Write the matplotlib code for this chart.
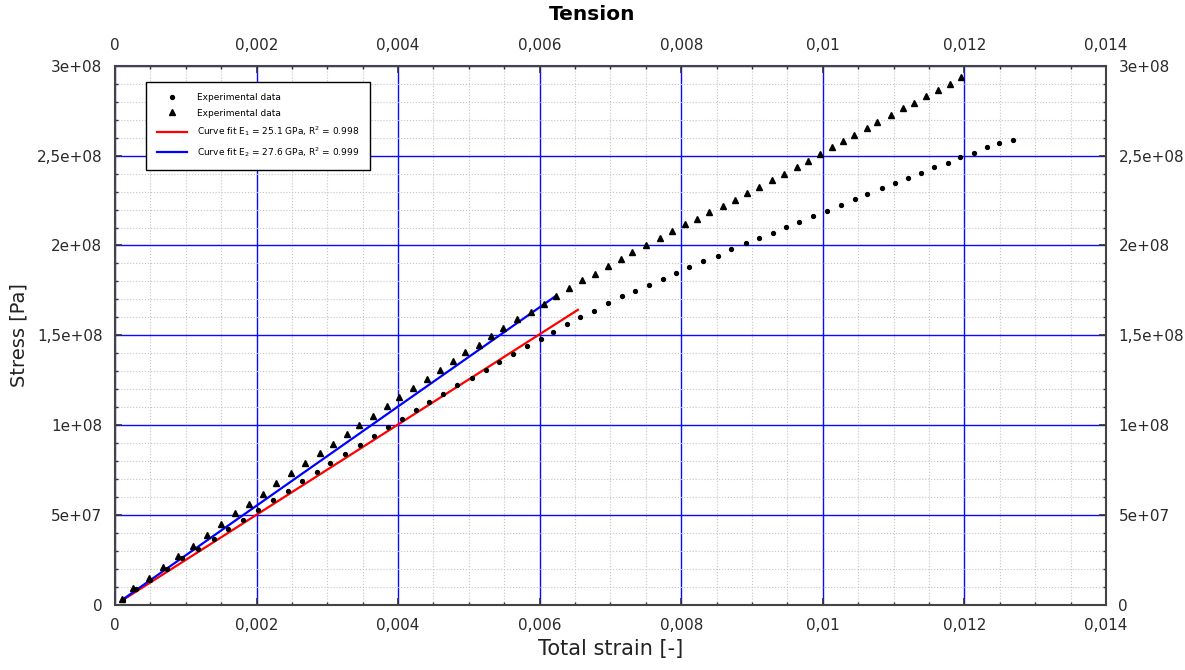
import matplotlib
matplotlib.use("Agg")
import matplotlib.pyplot as plt
from matplotlib.ticker import MultipleLocator, FuncFormatter

# data: strain [-], stress [Pa]
circle_strain = [0.000109, 0.000297, 0.000494, 0.000730, 0.000942, 0.001177, 0.001399, 0.001601,
                 0.001804, 0.002016, 0.002236, 0.002448, 0.002638, 0.002849, 0.003033, 0.003249,
                 0.003461, 0.003659, 0.003852, 0.004050, 0.004252, 0.004440, 0.004638, 0.004827,
                 0.005039, 0.005237, 0.005425, 0.005627, 0.005816, 0.006015, 0.006192, 0.006381,
                 0.006569, 0.006767, 0.006961, 0.007158, 0.007346, 0.007544, 0.007737, 0.007921,
                 0.008113, 0.008311, 0.008514, 0.008702, 0.008910, 0.009094, 0.009291, 0.009479,
                 0.009667, 0.009856, 0.010063, 0.010252, 0.010454, 0.010628, 0.010831, 0.011019,
                 0.011198, 0.011386, 0.011574, 0.011764, 0.011937, 0.012135, 0.012323, 0.012493,
                 0.012682]
circle_stress = [2.78e6, 8.72e6, 1.389e7, 1.983e7, 2.594e7, 3.094e7, 3.65e7, 4.206e7,
                 4.722e7, 5.278e7, 5.833e7, 6.333e7, 6.906e7, 7.389e7, 7.917e7, 8.428e7,
                 8.928e7, 9.406e7, 9.889e7, 1.035e8, 1.0833e8, 1.1317e8, 1.1739e8, 1.2222e8,
                 1.265e8, 1.3094e8, 1.3539e8, 1.3983e8, 1.4389e8, 1.4817e8, 1.5183e8, 1.5611e8,
                 1.60e8, 1.635e8, 1.6778e8, 1.7167e8, 1.7461e8, 1.7817e8, 1.8128e8, 1.8461e8,
                 1.8817e8, 1.9111e8, 1.9428e8, 1.9794e8, 2.0111e8, 2.0406e8, 2.0722e8, 2.1039e8,
                 2.1333e8, 2.165e8, 2.1944e8, 2.2261e8, 2.2572e8, 2.2872e8, 2.3183e8, 2.35e8,
                 2.3739e8, 2.4039e8, 2.435e8, 2.4611e8, 2.4906e8, 2.515e8, 2.5461e8, 2.5722e8,
                 2.5889e8]

tri_strain = [0.0000947, 0.000259, 0.000480, 0.000682, 0.000894, 0.001098, 0.001295, 0.001497,
              0.001699, 0.001889, 0.002091, 0.002274, 0.002482, 0.002684, 0.002890, 0.003075,
              0.003273, 0.003451, 0.003649, 0.003838, 0.004012, 0.004214, 0.004403, 0.004591,
              0.004779, 0.004949, 0.005146, 0.005308, 0.005486, 0.005675, 0.005873, 0.006061,
              0.006226, 0.006418, 0.006602, 0.006781, 0.006960, 0.007148, 0.007308, 0.007497,
              0.007699, 0.007869, 0.008057, 0.008226, 0.008396, 0.008585, 0.008759, 0.008932,
              0.009105, 0.009277, 0.009455, 0.009630, 0.009786, 0.009960, 0.010125, 0.010289,
              0.010444, 0.010619, 0.010769, 0.010963, 0.011128, 0.011288, 0.011453, 0.011631,
              0.011801, 0.011956]
tri_stress = [3.17e6, 9.61e6, 1.517e7, 2.111e7, 2.722e7, 3.278e7, 3.889e7, 4.50e7,
              5.094e7, 5.628e7, 6.167e7, 6.778e7, 7.35e7, 7.906e7, 8.444e7, 8.983e7,
              9.539e7, 1.0039e8, 1.0517e8, 1.1056e8, 1.1572e8, 1.2072e8, 1.2572e8, 1.3056e8,
              1.3556e8, 1.4056e8, 1.4483e8, 1.4983e8, 1.5389e8, 1.5889e8, 1.6317e8, 1.6733e8,
              1.7167e8, 1.7628e8, 1.8056e8, 1.8428e8, 1.8833e8, 1.9222e8, 1.965e8, 2.0017e8,
              2.0428e8, 2.0817e8, 2.1183e8, 2.1483e8, 2.1872e8, 2.2222e8, 2.2539e8, 2.2906e8,
              2.3278e8, 2.365e8, 2.3983e8, 2.435e8, 2.4722e8, 2.5094e8, 2.5461e8, 2.5833e8,
              2.6167e8, 2.6517e8, 2.6889e8, 2.7261e8, 2.7628e8, 2.7944e8, 2.8317e8, 2.8667e8,
              2.8983e8, 2.9372e8]

# fitted lines (end points)
fit1_strain = [0.0001, 0.00654]
fit1_stress = [2.5e6, 1.642e8]
fit2_strain = [0.0001, 0.00623]
fit2_stress = [2.8e6, 1.72e8]

fit1_label = r"Curve fit E$_1$ = 25.1 GPa, R$^2$ = 0.998"
fit2_label = r"Curve fit E$_2$ = 27.6 GPa, R$^2$ = 0.999"


def comma_fmt(v, pos):
    if abs(v) < 1e-15:
        return "0"
    return f"{v:g}".replace(".", ",")


fig = plt.figure(figsize=(11.85, 6.7), dpi=100)
ax = fig.add_axes([0.0970, 0.0970, 0.8363, 0.8049])

ax.plot(circle_strain, circle_stress, "o", color="black", markersize=2.8, label="Experimental data", zorder=4)
ax.plot(tri_strain, tri_stress, "^", color="black", markersize=5, label="Experimental data", zorder=4)
ax.plot(fit1_strain, fit1_stress, "-", color="#ff0000", lw=1.6, label=fit1_label, zorder=3)
ax.plot(fit2_strain, fit2_stress, "-", color="#0000ff", lw=1.6, label=fit2_label, zorder=3)

ax.set_xlim(0, 0.014)
ax.set_ylim(0, 3e8)
ax.xaxis.set_major_locator(MultipleLocator(0.002))
ax.xaxis.set_minor_locator(MultipleLocator(0.0005))
ax.yaxis.set_major_locator(MultipleLocator(5e7))
ax.yaxis.set_minor_locator(MultipleLocator(1e7))
ax.xaxis.set_major_formatter(FuncFormatter(comma_fmt))
ax.yaxis.set_major_formatter(FuncFormatter(comma_fmt))

ax.grid(which="minor", color="#c4c4c4", linestyle=":", linewidth=0.8)
ax.grid(which="major", color="#0a0aff", linestyle="-", linewidth=1.0)
ax.set_axisbelow(True)

ax.tick_params(which="both", direction="in", top=True, right=True,
               labeltop=True, labelright=True, colors="#333333", labelcolor="#2a2a2a")
ax.tick_params(which="major", length=5, width=1.2, labelsize=11, pad=9)
ax.tick_params(which="minor", length=2.5, width=1.0)
for s in ax.spines.values():
    s.set_color("#444444")
    s.set_linewidth(1.5)

ax.set_xlabel("Total strain [-]", fontsize=15, labelpad=5, color="#222222")
ax.set_ylabel("Stress [Pa]", fontsize=14, labelpad=6, color="#222222")
fig.text(0.5, 0.979, "Tension", ha="center", va="center", fontsize=14.5, fontweight="bold")

leg = ax.legend(loc="upper left", bbox_to_anchor=(0.0313, 0.97), fontsize=6.5,
                frameon=True, fancybox=False, handlelength=3.3, borderpad=1.2,
                labelspacing=0.75, handletextpad=1.1, borderaxespad=0, framealpha=1)
leg.get_frame().set_edgecolor("black")
leg.get_frame().set_linewidth(1.0)

fig.savefig("out.png", dpi=100)
